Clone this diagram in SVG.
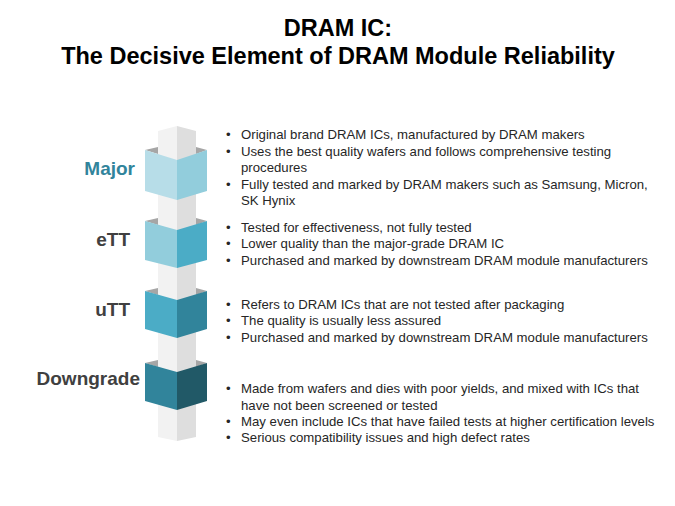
<svg xmlns="http://www.w3.org/2000/svg" width="675" height="506" viewBox="0 0 675 506">
<style>
.t{font-family:"Liberation Sans",Arial,sans-serif;font-weight:bold;font-size:23.5px;fill:#000;text-anchor:middle}
.b{font-family:"Liberation Sans",Arial,sans-serif;font-size:13.2px;fill:#262626}
.l{font-family:"Liberation Sans",Arial,sans-serif;font-weight:bold;font-size:19px;fill:#404040;text-anchor:end}
.sl{fill:#f2f2f2}.sr{fill:#dedede}.sh{fill:#a6a6a6}
</style>
<rect width="675" height="506" fill="#fff"/>
<text class="t" x="338" y="36">DRAM IC:</text>
<text class="t" x="338" y="64">The Decisive Element of DRAM Module Reliability</text>
<g id="column">
<polygon class="sl" points="158,131 177,126 177,441 158,437"/>
<polygon class="sr" points="177,126 196,131 196,437 177,441"/>
</g>
<g id="major">
<polygon class="sh" points="145,150 158,147 158,154"/>
<polygon class="sh" points="207,150 196,147 196,154"/>
<polygon fill="#b7dde8" points="145,150 177,160 177,200 145,191"/>
<polygon fill="#92cddc" points="177,160 207,150 207,191 177,200"/>
<text class="l" x="135" y="175" style="fill:#31849b">Major</text>
</g>
<g id="ett">
<polygon class="sh" points="145,221 158,218 158,225"/>
<polygon class="sh" points="207,221 196,218 196,225"/>
<polygon fill="#92cddc" points="145,221 177,230 177,268 145,260"/>
<polygon fill="#4bacc6" points="177,230 207,221 207,260 177,268"/>
<text class="l" x="130" y="246">eTT</text>
</g>
<g id="utt">
<polygon class="sh" points="145,291 158,288 158,295"/>
<polygon class="sh" points="207,291 196,288 196,295"/>
<polygon fill="#4bacc6" points="145,291 177,300 177,338 145,329"/>
<polygon fill="#31849b" points="177,300 207,291 207,329 177,338"/>
<text class="l" x="130" y="316">uTT</text>
</g>
<g id="downgrade">
<polygon class="sh" points="145,363 158,360 158,367"/>
<polygon class="sh" points="207,363 196,360 196,367"/>
<polygon fill="#31849b" points="145,363 177,372 177,410 145,401"/>
<polygon fill="#215967" points="177,372 207,363 207,401 177,410"/>
<text class="l" x="140" y="385">Downgrade</text>
</g>
<g id="text-major" class="b">
<text x="226" y="139">•</text><text x="241" y="139">Original brand DRAM ICs, manufactured  by DRAM makers</text>
<text x="226" y="156">•</text><text x="241" y="156">Uses the best quality wafers and follows comprehensive  testing</text>
<text x="241" y="172">procedures</text>
<text x="226" y="189">•</text><text x="241" y="189">Fully tested and marked by DRAM makers such as Samsung, Micron,</text>
<text x="241" y="205">SK Hynix</text>
</g>
<g id="text-ett" class="b">
<text x="226" y="232">•</text><text x="241" y="232">Tested for effectiveness,  not fully tested</text>
<text x="226" y="248">•</text><text x="241" y="248">Lower quality than the major-grade  DRAM IC</text>
<text x="226" y="265">•</text><text x="241" y="265">Purchased and marked by downstream DRAM module manufacturers</text>
</g>
<g id="text-utt" class="b">
<text x="226" y="309">•</text><text x="241" y="309">Refers to DRAM ICs that are not tested after packaging</text>
<text x="226" y="325">•</text><text x="241" y="325">The quality is usually less assured</text>
<text x="226" y="342">•</text><text x="241" y="342">Purchased and marked by downstream DRAM module manufacturers</text>
</g>
<g id="text-downgrade" class="b">
<text x="226" y="393">•</text><text x="241" y="393">Made from wafers and dies with poor yields, and mixed with ICs that</text>
<text x="241" y="410">have  not been screened or tested</text>
<text x="226" y="426">•</text><text x="241" y="426">May even include ICs that have failed tests at higher certification levels</text>
<text x="226" y="442">•</text><text x="241" y="442">Serious compatibility issues and high defect rates</text>
</g>
<g id="connectors"/>
</svg>
